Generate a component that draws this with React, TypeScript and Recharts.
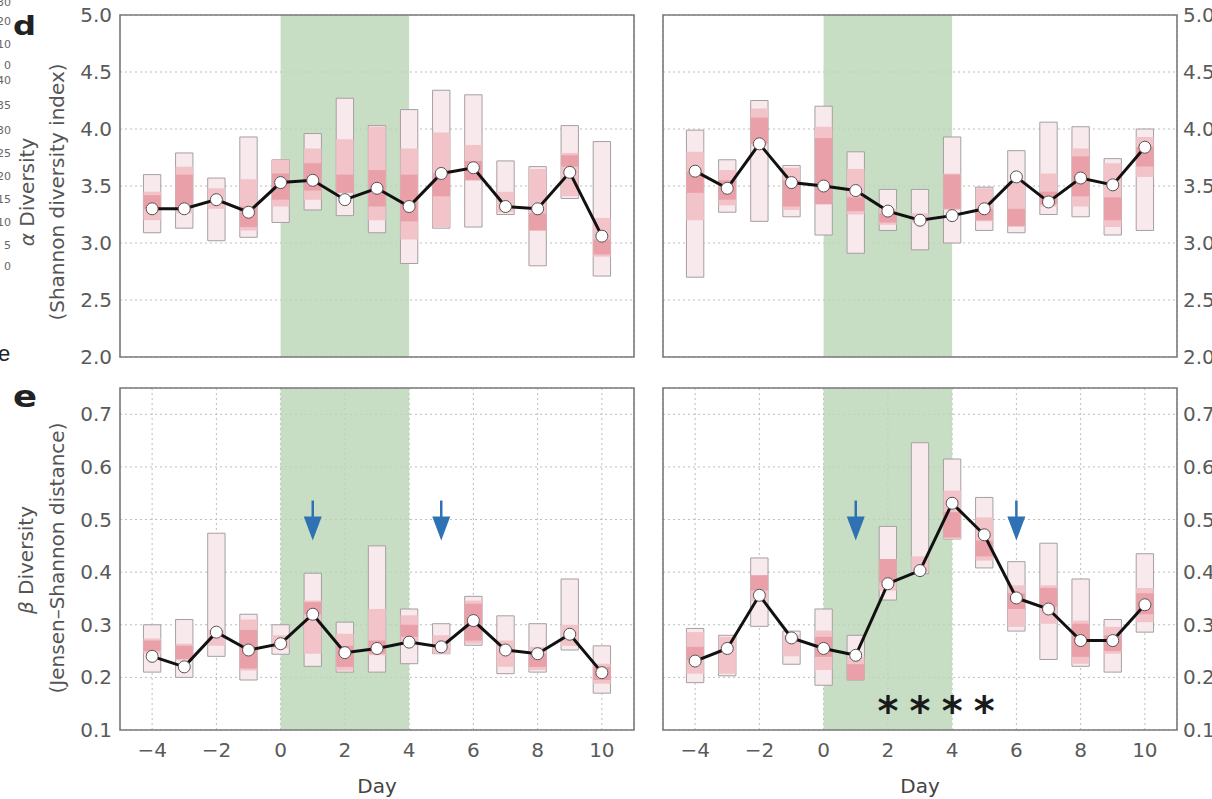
import React from 'react';
import { ComposedChart, Line, XAxis, YAxis, CartesianGrid, ReferenceArea, Scatter } from 'recharts';

type Range = [number, number] | null;

// ---------- shared axes ----------
const days = [-4, -3, -2, -1, 0, 1, 2, 3, 4, 5, 6, 7, 8, 9, 10];
const dayTicks = [-4, -2, 0, 2, 4, 6, 8, 10];
const dayDomain: [number, number] = [-5, 11];
const treatmentWindow: [number, number] = [0, 4];
const alphaTicks = [2.0, 2.5, 3.0, 3.5, 4.0, 4.5, 5.0];
const alphaDomain: [number, number] = [2, 5];
const betaTicks = [0.1, 0.2, 0.3, 0.4, 0.5, 0.6, 0.7];
const betaDomain: [number, number] = [0.1, 0.75];

// ---------- d, left: alpha diversity (control) ----------
const alphaCtrlMedian = [3.30, 3.30, 3.38, 3.27, 3.53, 3.55, 3.38, 3.48, 3.32, 3.61, 3.66, 3.32, 3.30, 3.62, 3.06];
const alphaCtrlOuter: Range[] = [[3.09, 3.60], [3.13, 3.79], [3.02, 3.57], [3.05, 3.93], [3.18, 3.73], [3.29, 3.96], [3.24, 4.27], [3.09, 4.03], [2.82, 4.17], [3.13, 4.34], [3.14, 4.30], [3.25, 3.72], [2.80, 3.67], [3.39, 4.03], [2.71, 3.89]];
const alphaCtrlMid: Range[] = [[3.20, 3.45], [3.26, 3.67], [3.30, 3.48], [3.11, 3.56], [3.32, 3.73], [3.38, 3.83], [3.44, 3.91], [3.20, 4.02], [3.03, 3.83], [3.14, 3.97], [3.55, 3.86], [3.27, 3.45], [3.11, 3.65], [3.41, 3.79], [2.88, 3.22]];
const alphaCtrlInner: Range[] = [[3.30, 3.42], [3.32, 3.60], null, [3.14, 3.32], [3.38, 3.61], [3.46, 3.70], [3.44, 3.60], [3.32, 3.64], [3.19, 3.60], [3.41, 3.61], [3.55, 3.72], null, [3.11, 3.26], [3.67, 3.77], [2.90, 3.03]];

// ---------- d, right: alpha diversity (treated) ----------
const alphaTrtMedian = [3.63, 3.48, 3.87, 3.53, 3.50, 3.46, 3.28, 3.20, 3.24, 3.30, 3.58, 3.36, 3.57, 3.51, 3.84];
const alphaTrtOuter: Range[] = [[2.70, 3.99], [3.27, 3.73], [3.19, 4.25], [3.23, 3.68], [3.07, 4.20], [2.91, 3.80], [3.11, 3.47], [2.94, 3.47], [3.00, 3.93], [3.11, 3.49], [3.09, 3.81], [3.25, 4.06], [3.23, 4.02], [3.07, 3.74], [3.11, 4.00]];
const alphaTrtMid: Range[] = [[3.20, 3.80], [3.33, 3.64], [3.85, 4.18], [3.29, 3.66], [3.34, 4.02], [3.25, 3.65], [3.16, 3.30], [3.18, 3.26], [3.29, 3.61], [3.19, 3.48], [3.14, 3.54], [3.32, 3.61], [3.32, 3.83], [3.14, 3.70], [3.58, 3.93]];
const alphaTrtInner: Range[] = [[3.44, 3.62], [3.38, 3.55], [3.87, 4.10], [3.32, 3.55], [3.34, 3.92], [3.28, 3.40], [3.18, 3.26], null, [3.30, 3.60], [3.20, 3.30], [3.15, 3.30], [3.34, 3.45], [3.41, 3.76], [3.20, 3.40], [3.67, 3.84]];

// ---------- e, left: beta diversity (control) ----------
const betaCtrlMedian = [0.240, 0.220, 0.286, 0.252, 0.264, 0.320, 0.247, 0.255, 0.267, 0.258, 0.308, 0.252, 0.245, 0.282, 0.209];
const betaCtrlOuter: Range[] = [[0.21, 0.30], [0.20, 0.31], [0.24, 0.474], [0.195, 0.32], [0.244, 0.30], [0.221, 0.398], [0.21, 0.305], [0.21, 0.45], [0.226, 0.33], [0.245, 0.302], [0.261, 0.354], [0.207, 0.317], [0.21, 0.302], [0.252, 0.387], [0.17, 0.26]];
const betaCtrlMid: Range[] = [[0.245, 0.274], [0.232, 0.264], [0.26, 0.29], [0.213, 0.31], [0.255, 0.28], [0.245, 0.346], [0.213, 0.283], [0.242, 0.33], [0.264, 0.318], [0.245, 0.28], [0.264, 0.346], [0.22, 0.27], [0.214, 0.258], [0.26, 0.30], [0.188, 0.226]];
const betaCtrlInner: Range[] = [[0.25, 0.27], [0.235, 0.26], null, [0.217, 0.29], null, [0.32, 0.343], [0.22, 0.26], [0.245, 0.27], [0.277, 0.30], null, [0.27, 0.34], null, [0.22, 0.245], null, [0.195, 0.22]];

// ---------- e, right: beta diversity (treated) ----------
const betaTrtMedian = [0.231, 0.255, 0.356, 0.275, 0.255, 0.242, 0.378, 0.403, 0.531, 0.471, 0.351, 0.330, 0.270, 0.270, 0.338];
const betaTrtOuter: Range[] = [[0.19, 0.293], [0.203, 0.28], [0.297, 0.427], [0.225, 0.288], [0.185, 0.33], [0.195, 0.28], [0.347, 0.487], [0.397, 0.646], [0.463, 0.615], [0.408, 0.542], [0.288, 0.42], [0.234, 0.455], [0.221, 0.387], [0.21, 0.31], [0.286, 0.435]];
const betaTrtMid: Range[] = [[0.207, 0.286], [0.207, 0.277], [0.345, 0.394], [0.24, 0.28], [0.214, 0.289], [0.195, 0.239], [0.365, 0.425], [0.40, 0.43], [0.463, 0.555], [0.422, 0.504], [0.296, 0.375], [0.302, 0.375], [0.226, 0.308], [0.245, 0.296], [0.305, 0.37]];
const betaTrtInner: Range[] = [[0.233, 0.258], null, [0.365, 0.394], null, [0.239, 0.277], [0.195, 0.225], [0.38, 0.425], null, [0.466, 0.514], [0.43, 0.46], [0.33, 0.36], [0.334, 0.37], [0.239, 0.302], [0.25, 0.28], [0.32, 0.36]];

// ---------- annotations ----------
const arrowDaysCtrl = [1, 5];
const arrowDaysTrt = [1, 6];
const arrowLevel = 0.5;
const starDays = [2, 3, 4, 5];
const starLevel = 0.153;
const strayTicks = ['30', '20', '10', '0', '40', '35', '30', '25', '20', '15', '10', '5', '0'];
const strayTickY = [2, 21, 44, 65, 80, 105, 130, 153, 176, 199, 222, 245, 266];

// ---------- styles ----------
const FONT = 'DejaVu Sans';
const GREEN = '#bad6b5';
const OUTER = '#f8eaec';
const MID = '#f2c3c8';
const INNER = '#e9a0a8';
const BLUE = '#2f72b4';
const TICK_COLOR = '#5a5a5a';
const HALF = 0.27;

const Arrow = (p: any) => {
  const { cx, cy } = p;
  if (cx == null || cy == null) return null;
  return (
    <g>
      <line x1={cx} x2={cx} y1={cy - 19} y2={cy} stroke={BLUE} strokeWidth={2.5} />
      <polygon points={`${cx - 9},${cy - 3} ${cx + 9},${cy - 3} ${cx},${cy + 21}`} fill={BLUE} />
    </g>
  );
};

const Star = (p: any) => {
  const { cx, cy } = p;
  if (cx == null || cy == null) return null;
  return (
    <text x={cx} y={cy + 23} textAnchor="middle" fontSize={40} fontWeight={700} fontFamily={FONT} fill="#1a1a1a">*</text>
  );
};

type PanelProps = {
  median: number[];
  outer: Range[];
  mid: Range[];
  inner: Range[];
  yDomain: [number, number];
  yTicks: number[];
  side: 'left' | 'right';
  showX: boolean;
  arrows?: number[];
  stars?: boolean;
  width: number;
  height: number;
  margin: { top: number; right: number; bottom: number; left: number };
  yWidth: number;
  xHeight: number;
};

function Panel(props: PanelProps) {
  const { median, outer, mid, inner, yDomain, yTicks, side, showX, arrows, stars, width, height, margin, yWidth, xHeight } = props;
  const data = days.map((d, i) => ({ day: d, med: median[i] }));
  const layer = (arr: Range[], fill: string, key: string, stroke?: string) =>
    days.map((d, i) => {
      const r = arr[i];
      if (!r) return null;
      return (
        <ReferenceArea
          key={key + i}
          x1={d - HALF}
          x2={d + HALF}
          y1={r[0]}
          y2={r[1]}
          fill={fill}
          fillOpacity={1}
          stroke={stroke || 'none'}
          strokeWidth={stroke ? 1 : 0}
        />
      );
    });
  return (
    <ComposedChart width={width} height={height} data={data} margin={margin} style={{ fontFamily: FONT }}>
      <ReferenceArea x1={treatmentWindow[0]} x2={treatmentWindow[1]} y1={yDomain[0]} y2={yDomain[1]} fill={GREEN} fillOpacity={0.8} stroke="none" />
      <CartesianGrid stroke="#bdbdbd" strokeDasharray="2 3" strokeWidth={1} />
      <XAxis
        dataKey="day"
        type="number"
        domain={dayDomain}
        ticks={dayTicks}
        allowDataOverflow
        axisLine={false}
        tickLine={false}
        tickSize={0}
        tickMargin={13}
        height={xHeight}
        tick={showX ? { fill: TICK_COLOR, fontSize: 20, fontFamily: FONT } : false}
        tickFormatter={(v: number) => (v < 0 ? '\u2212' + Math.abs(v) : String(v))}
        label={showX ? { value: 'Day', position: 'insideBottom', offset: 6, fill: '#444', fontSize: 20, fontFamily: FONT } : undefined}
      />
      <YAxis
        orientation={side}
        type="number"
        domain={yDomain}
        ticks={yTicks}
        allowDataOverflow
        axisLine={false}
        tickLine={false}
        tickSize={0}
        tickMargin={side === 'left' ? 8 : 6}
        width={yWidth}
        tick={{ fill: TICK_COLOR, fontSize: 20, fontFamily: FONT }}
        tickFormatter={(v: number) => v.toFixed(1)}
      />
      {layer(outer, OUTER, 'o', '#a59fa0')}
      {layer(mid, MID, 'm')}
      {layer(inner, INNER, 'i')}
      <ReferenceArea x1={dayDomain[0]} x2={dayDomain[1]} y1={yDomain[0]} y2={yDomain[1]} fill="none" fillOpacity={0} stroke="#7a7a7a" strokeWidth={1.6} />
      <Line
        dataKey="med"
        type="linear"
        stroke="#111"
        strokeWidth={3}
        dot={{ r: 6, fill: '#fff', stroke: '#555', strokeWidth: 1 }}
        activeDot={false}
        isAnimationActive={false}
      />
      {arrows ? (
        <Scatter data={arrows.map((d) => ({ day: d, v: arrowLevel }))} dataKey="v" shape={Arrow} isAnimationActive={false} />
      ) : null}
      {stars ? (
        <Scatter data={starDays.map((d) => ({ day: d, v: starLevel }))} dataKey="v" shape={Star} isAnimationActive={false} />
      ) : null}
    </ComposedChart>
  );
}

export default function App() {
  const topH = 370;
  const botH = 429;
  return (
    <div style={{ position: 'absolute', left: 0, top: 0, width: 1212, height: 799, overflow: 'hidden', background: '#fff', fontFamily: FONT }}>
      <div style={{ position: 'absolute', left: 0, top: 0 }}>
        <Panel median={alphaCtrlMedian} outer={alphaCtrlOuter} mid={alphaCtrlMid} inner={alphaCtrlInner}
          yDomain={alphaDomain} yTicks={alphaTicks} side="left" showX={false}
          width={640} height={topH} margin={{ top: 15, right: 6, bottom: 0, left: 0 }} yWidth={120} xHeight={13} />
      </div>
      <div style={{ position: 'absolute', left: 640, top: 0 }}>
        <Panel median={alphaTrtMedian} outer={alphaTrtOuter} mid={alphaTrtMid} inner={alphaTrtInner}
          yDomain={alphaDomain} yTicks={alphaTicks} side="right" showX={false}
          width={600} height={topH} margin={{ top: 15, right: 0, bottom: 0, left: 23 }} yWidth={63} xHeight={13} />
      </div>
      <div style={{ position: 'absolute', left: 0, top: 370 }}>
        <Panel median={betaCtrlMedian} outer={betaCtrlOuter} mid={betaCtrlMid} inner={betaCtrlInner}
          yDomain={betaDomain} yTicks={betaTicks} side="left" showX={true} arrows={arrowDaysCtrl}
          width={640} height={botH} margin={{ top: 18, right: 6, bottom: 0, left: 0 }} yWidth={120} xHeight={69} />
      </div>
      <div style={{ position: 'absolute', left: 640, top: 370 }}>
        <Panel median={betaTrtMedian} outer={betaTrtOuter} mid={betaTrtMid} inner={betaTrtInner}
          yDomain={betaDomain} yTicks={betaTicks} side="right" showX={true} arrows={arrowDaysTrt} stars={true}
          width={600} height={botH} margin={{ top: 18, right: 0, bottom: 0, left: 23 }} yWidth={63} xHeight={69} />
      </div>
      <svg width={1212} height={799} style={{ position: 'absolute', left: 0, top: 0, pointerEvents: 'none' }}>
        {strayTicks.map((t, i) => (
          <text key={'s' + i} x={11} y={strayTickY[i] + 4} textAnchor="end" fontSize={11} fontFamily={FONT} fill="#666">{t}</text>
        ))}
        <text x={-2} y={361} fontSize={22} fontFamily="Liberation Sans" fill="#222">e</text>
        <text x={13} y={35} fontSize={27} fontWeight={700} fontFamily={FONT} fill="#222" textLength={23} lengthAdjust="spacingAndGlyphs">d</text>
        <text x={13} y={407} fontSize={31} fontWeight={700} fontFamily={FONT} fill="#222" textLength={24} lengthAdjust="spacingAndGlyphs">e</text>
        <text transform="translate(34,192) rotate(-90)" textAnchor="middle" fontSize={20} fontFamily={FONT} fill="#555">
          <tspan fontStyle="italic">α</tspan> Diversity
        </text>
        <text transform="translate(64,192) rotate(-90)" textAnchor="middle" fontSize={20} fontFamily={FONT} fill="#555">(Shannon diversity index)</text>
        <text transform="translate(33,560) rotate(-90)" textAnchor="middle" fontSize={20} fontFamily={FONT} fill="#555">
          <tspan fontStyle="italic">β</tspan> Diversity
        </text>
        <text transform="translate(64,558) rotate(-90)" textAnchor="middle" fontSize={20} fontFamily={FONT} fill="#555">(Jensen–Shannon distance)</text>
      </svg>
    </div>
  );
}
